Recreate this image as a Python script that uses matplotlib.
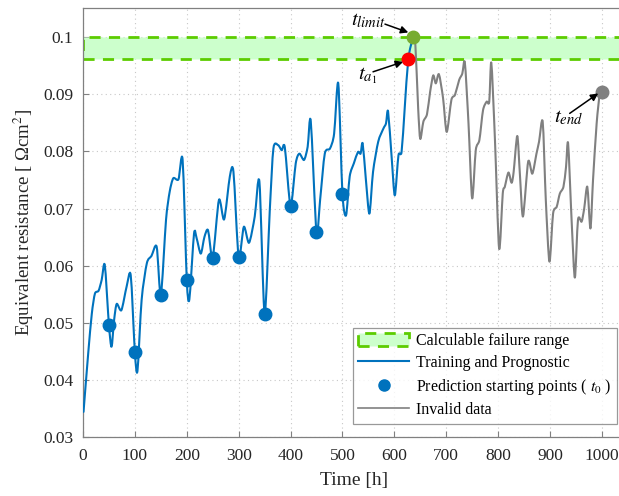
import matplotlib
matplotlib.use("Agg")
import numpy as np
import matplotlib.pyplot as plt
from matplotlib.patches import Patch, PathPatch
from matplotlib.path import Path
from matplotlib.lines import Line2D
from matplotlib.ticker import FuncFormatter, MultipleLocator

plt.rcParams["font.family"] = ["Liberation Serif", "DejaVu Serif"]
plt.rcParams["mathtext.fontset"] = "stix"

# Training / prognostic part of the resistance trace
train_t = [1, 10, 17, 23, 30, 36, 42, 50, 55, 60, 65, 74, 84, 92, 100, 105, 113, 123,
           132, 142, 150, 160, 167, 174, 184, 192, 200, 205, 214, 219, 227, 234, 241,
           250, 262, 272, 283, 290, 300, 310, 320, 331, 340, 350, 360, 367, 376, 383,
           389, 400, 410, 417, 426, 433, 439, 450, 457, 466, 476, 484, 492, 500, 507,
           514, 522, 530, 535, 539, 545, 552, 559, 569, 579, 584, 588, 595, 601, 608,
           614, 620, 627, 636]
train_v = [0.0344, 0.0446, 0.0516, 0.0551, 0.0556, 0.0575, 0.0601, 0.0496, 0.0458,
           0.0505, 0.0533, 0.0522, 0.0563, 0.0583, 0.0448, 0.0416, 0.0540, 0.0604,
           0.0617, 0.0633, 0.0548, 0.0680, 0.0729, 0.0753, 0.0751, 0.0785, 0.0575,
           0.0541, 0.0656, 0.0648, 0.0621, 0.0650, 0.0662, 0.0614, 0.0715, 0.0681,
           0.0756, 0.0764, 0.0615, 0.0668, 0.0640, 0.0686, 0.0747, 0.0516, 0.0697,
           0.0805, 0.0811, 0.0802, 0.0807, 0.0705, 0.0779, 0.0796, 0.0785, 0.0808,
           0.0853, 0.0658, 0.0715, 0.0796, 0.0805, 0.0831, 0.0919, 0.0726, 0.0688,
           0.0756, 0.0779, 0.0799, 0.0796, 0.0814, 0.0753, 0.0691, 0.0764, 0.0817,
           0.0840, 0.0849, 0.0870, 0.0788, 0.0723, 0.0793, 0.0799, 0.0875, 0.0962,
           0.1000]

# Data after the failure limit (not usable)
invalid_t = [636, 640, 646, 650, 656, 663, 669, 675, 680, 686, 694, 701, 710, 717, 725,
             731, 736, 743, 750, 757, 764, 771, 778, 783, 787, 794, 802, 809, 813, 820,
             826, 830, 837, 842, 848, 858, 866, 874, 879, 886, 892, 899, 906, 913, 919,
             926, 931, 935, 942, 948, 954, 961, 966, 972, 978, 983, 990, 996, 1000]
invalid_v = [0.1000, 0.0998, 0.0875, 0.0822, 0.0852, 0.0865, 0.0904, 0.0933, 0.0919,
             0.0935, 0.0893, 0.0834, 0.0890, 0.0899, 0.0925, 0.0936, 0.0955, 0.0849,
             0.0718, 0.0802, 0.0820, 0.0872, 0.0887, 0.0887, 0.0955, 0.0820, 0.0630,
             0.0726, 0.0738, 0.0763, 0.0745, 0.0764, 0.0827, 0.0761, 0.0686, 0.0782,
             0.0761, 0.0796, 0.0817, 0.0852, 0.0715, 0.0607, 0.0691, 0.0703, 0.0726,
             0.0738, 0.0773, 0.0814, 0.0674, 0.0579, 0.0680, 0.0677, 0.0700, 0.0738,
             0.0665, 0.0750, 0.0849, 0.0901, 0.0904]

# Prediction starting points t0
start_t = [50, 100, 150, 200, 250, 300, 350, 400, 450, 500]
start_v = [0.0496, 0.0448, 0.0548, 0.0575, 0.0614, 0.0615, 0.0516, 0.0705, 0.0658, 0.0726]

# Failure band and key instants
band_lo, band_hi = 0.0962, 0.1000
t_a1, v_a1 = 627, 0.0962
t_limit, v_limit = 636, 0.1000
t_end, v_end = 1000, 0.0904

BLUE = "#0072BD"
GREY = "#808080"
GREEN_EDGE = "#5ccc00"
GREEN_FACE = "#ccffcc"


def smooth_trace(ax, x, y, **kw):
    """Draw a polyline through (x, y) as a Catmull-Rom Bezier curve."""
    p = np.column_stack([x, y]).astype(float)
    ext = np.vstack([p[0], p, p[-1]])
    k = 0.8 / 6.0
    verts = [p[0]]
    codes = [Path.MOVETO]
    for i in range(len(p) - 1):
        c1 = p[i] + (ext[i + 2] - ext[i]) * k
        c2 = p[i + 1] - (ext[i + 3] - ext[i + 1]) * k
        verts += [c1, c2, p[i + 1]]
        codes += [Path.CURVE4] * 3
    patch = PathPatch(Path(verts, codes), facecolor="none", transform=ax.transData,
                      capstyle="round", joinstyle="round", **kw)
    ax.add_patch(patch)
    return patch


fig = plt.figure(figsize=(6.19, 4.96), dpi=100)
ax = fig.add_axes([83 / 619, 1 - 437 / 496, 1 - 83 / 619 + 0.01, (437 - 8) / 496])

ax.set_xlim(0, 1045)
ax.set_ylim(0.03, 0.1051)

ax.axhspan(band_lo, band_hi, xmin=0, xmax=1, facecolor=GREEN_FACE, edgecolor=GREEN_EDGE,
           linestyle=(0, (4, 3)), linewidth=2, zorder=1)

smooth_trace(ax, invalid_t, invalid_v, edgecolor=GREY, lw=1.5, zorder=3)
smooth_trace(ax, train_t, train_v, edgecolor=BLUE, lw=1.5, zorder=4)
ax.plot(start_t, start_v, "o", color=BLUE, ms=9, zorder=5)

ax.plot([t_limit], [v_limit], "o", color="#77AC30", ms=9, zorder=6)
ax.plot([t_a1], [v_a1], "o", color="red", ms=9, zorder=6)
ax.plot([t_end], [v_end], "o", color=GREY, ms=9, zorder=6)

arrow = dict(arrowstyle="-|>", color="black", lw=1.1, mutation_scale=11,
             shrinkA=0, shrinkB=0)
ax.annotate("", xy=(627, 0.10082), xytext=(582, 0.10228), arrowprops=arrow, zorder=7)
ax.annotate("", xy=(617, 0.09568), xytext=(559, 0.09393), arrowprops=arrow, zorder=7)
ax.annotate("", xy=(993, 0.09015), xytext=(938, 0.08665), arrowprops=arrow, zorder=7)

ax.text(551, 0.1028, r"$t_{limit}$", fontsize=15, ha="center", va="center", zorder=7)
ax.text(549, 0.0933, r"$t_{a_1}$", fontsize=15, ha="center", va="center", zorder=7)
ax.text(936, 0.0858, r"$t_{end}$", fontsize=15, ha="center", va="center", zorder=7)

ax.xaxis.set_major_locator(MultipleLocator(100))
ax.yaxis.set_major_locator(MultipleLocator(0.01))
ax.yaxis.set_major_formatter(FuncFormatter(lambda v, p: f"{v:g}"))
ax.tick_params(direction="in", length=4, width=0.8, color=GREY, labelsize=12.5,
               labelcolor="#262626", top=False, right=False)
ax.tick_params(axis="x", pad=8)
ax.tick_params(axis="y", pad=7)
ax.grid(True, linestyle=(0, (1, 3)), color="#c8c8c8", lw=0.8)
ax.set_axisbelow(True)
for s in ax.spines.values():
    s.set_color(GREY)
    s.set_linewidth(0.9)

ax.set_xlabel("Time [h]", fontsize=14, color="#262626", labelpad=6)
ax.set_ylabel("Equivalent resistance [ Ωcm$^{2}$]", fontsize=13.5, color="#262626",
              labelpad=5)

handles = [
    Patch(facecolor=GREEN_FACE, edgecolor=GREEN_EDGE, linestyle=(0, (4, 3)), linewidth=2),
    Line2D([], [], color=BLUE, lw=1.5),
    Line2D([], [], ls="none", marker="o", color=BLUE, ms=8),
    Line2D([], [], color=GREY, lw=1.2),
]
labels = ["Calculable failure range", "Training and Prognostic",
          r"Prediction starting points ( $t_{\mathit{0}}$ )", "Invalid data"]
leg = ax.legend(handles, labels, loc="lower right", borderaxespad=0, fontsize=11.5,
                frameon=True, fancybox=False, edgecolor=GREY, handlelength=3.2,
                handleheight=0.9, labelspacing=0.35, handletextpad=0.4, borderpad=0.35)
leg.set_bbox_to_anchor((617 / 619, 1 - 424 / 496), transform=fig.transFigure)
leg.get_frame().set_linewidth(0.9)

fig.savefig("out.png", dpi=100)
